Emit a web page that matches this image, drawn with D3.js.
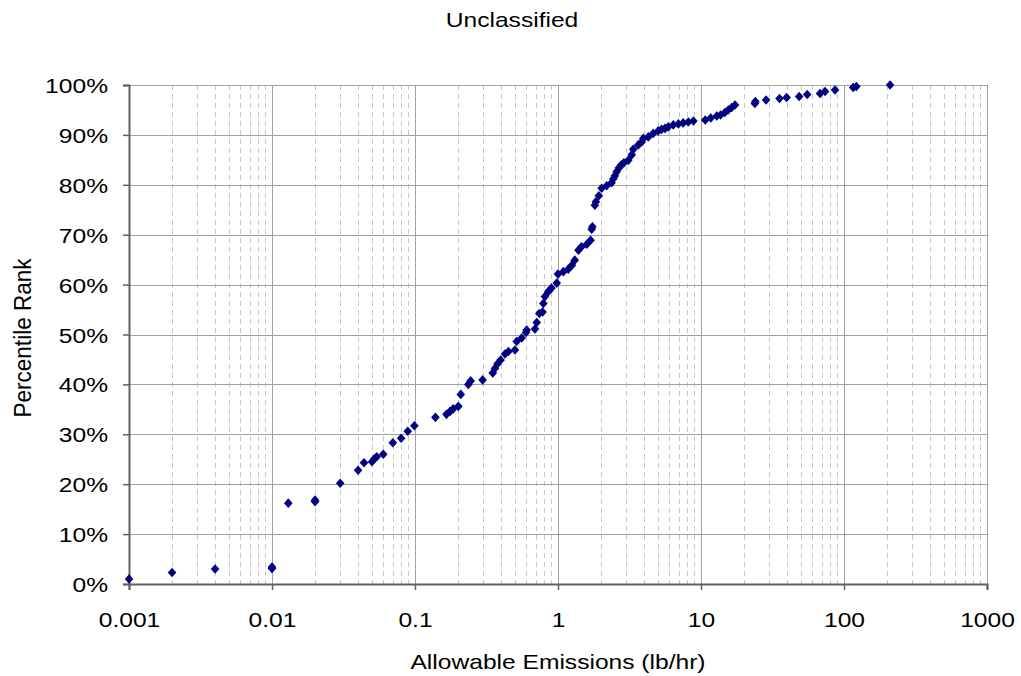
<!DOCTYPE html>
<html>
<head>
<meta charset="utf-8">
<script src="https://cdn.jsdelivr.net/npm/d3@7"></script>
<style>
  html, body { margin: 0; padding: 0; background: #fff; }
  text { font-family: "Liberation Sans", Arial, sans-serif; fill: #000; }
</style>
</head>
<body>
<svg id="chart" width="1021" height="676"></svg>
<script>
// ---- data ----
const titleText = "Unclassified";
const xAxisTitle = "Allowable Emissions (lb/hr)";
const yAxisTitle = "Percentile Rank";
const xTickValues = [0.001, 0.01, 0.1, 1, 10, 100, 1000];
const xTickLabels = ["0.001", "0.01", "0.1", "1", "10", "100", "1000"];
const yTickValues = [0, 0.1, 0.2, 0.3, 0.4, 0.5, 0.6, 0.7, 0.8, 0.9, 1.0];
const yTickLabels = ["0%", "10%", "20%", "30%", "40%", "50%", "60%", "70%", "80%", "90%", "100%"];

// allowable emissions (lb/hr)
const emissions = [
  0.001, 0.002, 0.004, 0.01, 0.01, 0.013, 0.02, 0.02, 0.03, 0.04,
  0.044, 0.05, 0.052, 0.054, 0.06, 0.07, 0.08, 0.089, 0.099, 0.139,
  0.166, 0.176, 0.185, 0.201, 0.209, 0.236, 0.245, 0.297, 0.35, 0.362,
  0.377, 0.397, 0.426, 0.45, 0.50, 0.514, 0.557, 0.597, 0.604, 0.69,
  0.71, 0.74, 0.78, 0.79, 0.81, 0.855, 0.90, 0.98, 1.0, 1.09,
  1.18, 1.25, 1.31, 1.39, 1.46, 1.59, 1.69, 1.72, 1.74, 1.81,
  1.84, 1.93, 2.02, 2.19, 2.37, 2.44, 2.50, 2.57, 2.67, 2.78,
  2.89, 3.10, 3.28, 3.36, 3.64, 3.85, 3.95, 4.28, 4.63, 5.02,
  5.3, 5.6, 5.9, 6.4, 6.95, 7.5, 8.15, 8.85, 10.7, 11.7,
  12.9, 13.7, 14.7, 15.5, 16.4, 17.3, 23.8, 24.0, 28.5, 35.4,
  39.7, 48.6, 55.3, 68, 73.7, 86.5, 116, 122, 210
];
// percentile rank (%)
const percentileRank = [
  1.0, 2.3, 3.0, 3.1, 3.4, 16.2, 16.5, 16.8, 20.2, 22.8,
  24.3, 24.5, 25.1, 25.5, 26.0, 28.3, 29.2, 30.6, 31.7, 33.4,
  34.0, 34.6, 35.1, 35.6, 38.0, 40.0, 40.7, 40.9, 42.3, 43.2,
  44.1, 44.9, 46.1, 46.6, 46.9, 48.6, 49.3, 50.4, 50.9, 51.1,
  52.4, 54.2, 54.5, 56.2, 57.6, 58.6, 59.3, 60.3, 62.1, 62.6,
  63.1, 63.9, 64.9, 66.9, 67.6, 68.1, 68.9, 71.1, 71.6, 75.9,
  76.6, 77.8, 79.3, 79.8, 80.4, 81.2, 81.8, 82.6, 83.4, 84.0,
  84.4, 84.9, 86.0, 87.1, 88.0, 88.6, 89.3, 89.6, 90.3, 90.8,
  91.1, 91.3, 91.6, 92.0, 92.2, 92.4, 92.6, 92.8, 93.0, 93.4,
  93.8, 94.0, 94.5, 95.0, 95.5, 96.0, 96.3, 96.7, 97.0, 97.3,
  97.5, 97.7, 98.1, 98.3, 98.7, 99.0, 99.5, 99.7, 100.0
];

const points = emissions.map((v, i) => ({ x: v, y: percentileRank[i] / 100 }));

// ---- layout ----
const svg = d3.select("#chart");
const plotLeft = 129, plotRight = 987, plotTop = 85, plotBottom = 584;
const fontSize = 20.5, stretch = 1.2;

const x = d3.scaleLog().domain([0.001, 1000]).range([plotLeft, plotRight]);
const y = d3.scaleLinear().domain([0, 1]).range([plotBottom, plotTop]);

// minor vertical grid (dashed)
const minorTicks = [];
for (let k = -3; k < 3; k++) {
  for (let m = 2; m <= 9; m++) minorTicks.push(m * Math.pow(10, k));
}
svg.append("g").selectAll("line").data(minorTicks).join("line")
  .attr("x1", d => Math.round(x(d)) + 0.5).attr("x2", d => Math.round(x(d)) + 0.5)
  .attr("y1", plotTop).attr("y2", plotBottom)
  .attr("stroke", "#c8c8c8").attr("stroke-width", 1)
  .attr("stroke-dasharray", "5,4");

// major vertical grid
svg.append("g").selectAll("line").data(xTickValues.slice(1)).join("line")
  .attr("x1", d => Math.round(x(d)) + 0.5).attr("x2", d => Math.round(x(d)) + 0.5)
  .attr("y1", plotTop).attr("y2", plotBottom)
  .attr("stroke", "#a0a0a0").attr("stroke-width", 1);

// horizontal grid
svg.append("g").selectAll("line").data(yTickValues.slice(1)).join("line")
  .attr("x1", plotLeft).attr("x2", plotRight)
  .attr("y1", d => Math.round(y(d)) + 0.5).attr("y2", d => Math.round(y(d)) + 0.5)
  .attr("stroke", "#a0a0a0").attr("stroke-width", 1);

// axes
const xAxis = d3.axisBottom(x).tickValues(xTickValues)
  .tickFormat((d, i) => xTickLabels[i]).tickSize(6);
const gx = svg.append("g").attr("transform", `translate(0,${plotBottom})`).call(xAxis);
gx.select(".domain").attr("stroke", "#606060").attr("stroke-width", 2);
gx.selectAll(".tick line").attr("stroke", "#606060").attr("stroke-width", 1.5);
gx.selectAll(".tick text")
  .attr("font-size", fontSize).attr("font-family", "Liberation Sans, Arial, sans-serif")
  .attr("y", 0).attr("dy", null)
  .attr("transform", `translate(0,43) scale(${stretch},1)`);

const yAxis = d3.axisLeft(y).tickValues(yTickValues)
  .tickFormat((d, i) => yTickLabels[i]).tickSize(6);
const gy = svg.append("g").attr("transform", `translate(${plotLeft},0)`).call(yAxis);
gy.select(".domain").attr("stroke", "#606060").attr("stroke-width", 2);
gy.selectAll(".tick line").attr("stroke", "#606060").attr("stroke-width", 1.5);
gy.selectAll(".tick text")
  .attr("font-size", fontSize).attr("font-family", "Liberation Sans, Arial, sans-serif")
  .attr("x", 0).attr("dy", null).attr("y", 0)
  .attr("transform", `translate(-21,7.5) scale(${stretch},1)`);

// points (diamonds)
const rx = 4.3, ry = 4.8;
svg.append("g").selectAll("path").data(points).join("path")
  .attr("transform", d => `translate(${x(d.x)},${y(d.y)})`)
  .attr("d", `M0,${-ry}L${rx},0L0,${ry}L${-rx},0Z`)
  .attr("fill", "#000080");

// titles
svg.append("text").attr("transform", `translate(512,27) scale(${stretch},1)`)
  .attr("text-anchor", "middle").attr("font-size", fontSize).text(titleText);
svg.append("text").attr("transform", `translate(558,669) scale(${stretch},1)`)
  .attr("text-anchor", "middle").attr("font-size", fontSize).text(xAxisTitle);
svg.append("text").attr("transform", `translate(31,338) rotate(-90) scale(1.1,1.2)`)
  .attr("text-anchor", "middle").attr("font-size", fontSize).text(yAxisTitle);
</script>
</body>
</html>
